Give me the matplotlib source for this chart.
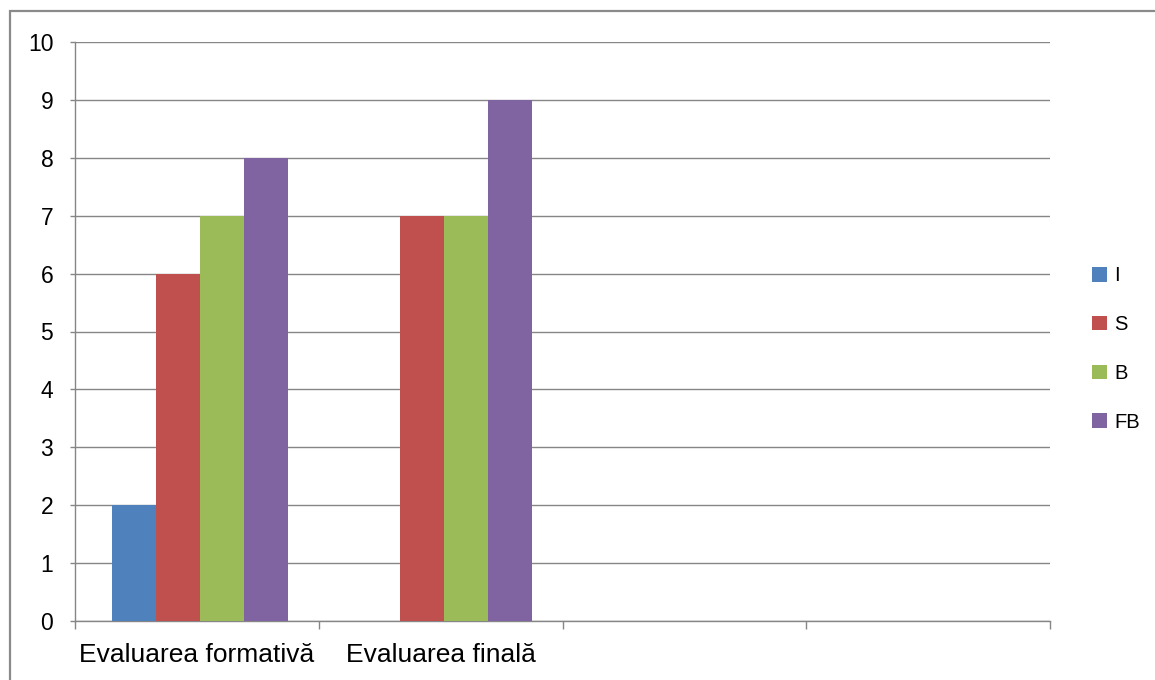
import numpy as np
import matplotlib
matplotlib.use('Agg')
import matplotlib.pyplot as plt
from matplotlib.patches import Rectangle

plt.rcParams['font.family'] = ['Liberation Sans', 'DejaVu Sans']

# chart data
categories = ['Evaluarea formativă', 'Evaluarea finală', '', '']
series_names = ['I', 'S', 'B', 'FB']
vals_I = [2, 0, 0, 0]
vals_S = [6, 7, 0, 0]
vals_B = [7, 7, 0, 0]
vals_FB = [8, 9, 0, 0]
colors = ['#4F81BD', '#C0504D', '#9BBB59', '#8064A2']

W, H = 1155, 680
fig = plt.figure(figsize=(W / 100, H / 100), dpi=100)
ax = fig.add_axes([75 / W, (H - 621) / H, (1050 - 75) / W, (621 - 42) / H])

x = np.arange(len(categories))
width = 0.1805
for i, (name, vals) in enumerate(zip(series_names, [vals_I, vals_S, vals_B, vals_FB])):
    ax.bar(x + (i - 1.5) * width + 0.013, vals, width, color=colors[i], label=name, zorder=3)

ax.set_xlim(-0.5, len(categories) - 0.5)
ax.set_ylim(0, 10)
ax.set_yticks(range(0, 11))
ax.yaxis.grid(True, color='#868686', lw=1, zorder=0)

# category boundaries as major ticks, labels on minor ticks
ax.set_xticks(np.arange(-0.5, len(categories)))
ax.set_xticklabels([])
ax.set_xticks(x, minor=True)
ax.set_xticklabels(categories, minor=True, fontsize=19)
ax.tick_params(axis='x', which='major', length=5.5, color='#868686', width=1)
ax.tick_params(axis='x', which='minor', length=0, pad=16)
ax.tick_params(axis='y', length=3.6, color='#868686', width=1, pad=12, labelsize=16.5)

for s in ['top', 'right']:
    ax.spines[s].set_visible(False)
for s in ['left', 'bottom']:
    ax.spines[s].set_color('#868686')
    ax.spines[s].set_linewidth(1)

fig.legend(loc='center left', bbox_to_anchor=(1092 / W, (H - 349) / H),
           frameon=False, fontsize=14.5, handlelength=0.75, handleheight=0.75,
           handletextpad=0.35, labelspacing=1.48, borderpad=0, borderaxespad=0)

# outer chart frame
fig.patches.append(Rectangle((9.5 / W, -0.1), 1.2, (H - 11) / H + 0.1,
                             transform=fig.transFigure, fill=False,
                             edgecolor='#8a8a8a', lw=1.6))

fig.savefig('out.png', dpi=100)
